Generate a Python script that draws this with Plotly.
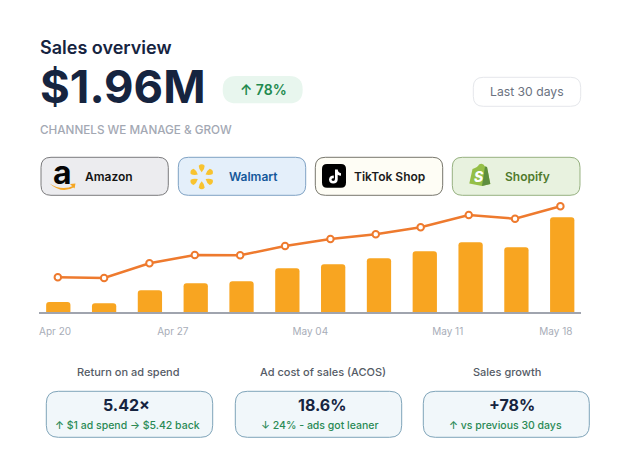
import math
import plotly.graph_objects as go

WIDTH, HEIGHT = 630, 473

# Sales series
bar_values = [10, 8.7, 21.7, 28.7, 30.7, 43.7, 47.7, 53.7, 60.7, 69.7, 64.7, 94.7]
line_values = [34.7, 34, 48.7, 57, 56.7, 66, 73, 77.7, 84.7, 97, 93.3, 105.7]
bar_positions = list(range(12))
line_positions = [-0.01, 1.0, 1.99, 2.98, 3.97, 4.95, 5.94, 6.93, 7.91, 8.96, 9.97, 10.96]
tick_positions = [-0.07, 2.5, 5.5, 8.5, 10.86]
tick_labels = ["Apr 20", "Apr 27", "May 04", "May 11", "May 18"]

# Channel buttons: label, left, right, fill, border, text colour, text centre
channels = [
    ("Amazon", 41, 168.3, "#ECECEF", "#7B7B7D", "#141414", 109),
    ("Walmart", 178.3, 305.7, "#E4EFFA", "#7FA2C4", "#15589B", 253.3),
    ("TikTok Shop", 315.3, 442.7, "#FEFDF5", "#77766C", "#1B1B1B", 389.7),
    ("Shopify", 452.3, 580, "#E8F2DF", "#96B180", "#4F7A2C", 527),
]

# Metric cards: heading, value, note, left, right and text centres
metrics = [
    ("Return on ad spend", "5.42×", "↑ $1 ad spend → $5.42 back", 46.3, 212.7, 128.7, 126.5, 127.8),
    ("Ad cost of sales (ACOS)", "18.6%", "↓ 24% - ads got leaner", 235.3, 401.7, 322.5, 322, 319.5),
    ("Sales growth", "+78%", "↑ vs previous 30 days", 423.3, 589.3, 506.7, 511.5, 505.7),
]

NAVY = "#16243F"
FONT = "Inter"


def px(x):
    return x / WIDTH


def py(y):
    return 1 - y / HEIGHT


def path(commands):
    """Build an SVG path in paper space from (letter, x, y, ...) commands given in page pixels."""
    out = []
    for cmd in commands:
        parts = [cmd[0]]
        vals = cmd[1:]
        for i in range(0, len(vals), 2):
            parts.append(f"{px(vals[i]):.5f},{py(vals[i + 1]):.5f}")
        out.append(" ".join(parts))
    return " ".join(out)


def rounded(x0, y0, x1, y1, r):
    return path([
        ("M", x0 + r, y0), ("L", x1 - r, y0), ("Q", x1, y0, x1, y0 + r),
        ("L", x1, y1 - r), ("Q", x1, y1, x1 - r, y1), ("L", x0 + r, y1),
        ("Q", x0, y1, x0, y1 - r), ("L", x0, y0 + r), ("Q", x0, y0, x0 + r, y0), ("Z",),
    ])


shapes = []
annotations = []


def shape(d, fill, line=None, width=1):
    shapes.append(dict(
        type="path", xref="paper", yref="paper", path=d, fillcolor=fill, layer="above",
        line=dict(color=line or "rgba(0,0,0,0)", width=width if line else 0),
    ))


def label(text, x, y, size, color, weight=400, anchor="center"):
    annotations.append(dict(
        text=text, x=px(x), y=py(y), xref="paper", yref="paper", showarrow=False,
        xanchor=anchor, yanchor="middle", borderpad=0, borderwidth=0,
        font=dict(family=FONT, size=size, color=color, weight=weight),
    ))


# Header
label("Sales overview", 40, 47.5, 18, NAVY, 600, "left")
label("$1.96M", 40, 87, 45.5, NAVY, 700, "left")
shape(rounded(222.7, 76, 302.7, 103.3, 13.6), "#E8F6EE")
label("↑ 78%", 263, 89, 14, "#1F8A4F", 600)
shape(rounded(473.3, 77.3, 580.7, 106.3, 10), "#FFFFFF", "#E5E7EB")
label("Last 30 days", 527, 92, 12.2, "#6B7280", 400)
label("CHANNELS WE MANAGE &amp; GROW", 40, 130, 11.7, "#A3A8B3", 500, "left")

# Channel buttons
for name, left, right, fill, border, ink, centre in channels:
    shape(rounded(left, 157.3, right, 195.3, 10), fill, border)
    label(name, centre, 176.5, 12, ink, 600)

# Amazon mark
label("a", 62, 172, 32, "#050505", 700)
shape(path([("M", 49.5, 183.5), ("Q", 62, 191.5, 74, 185.5), ("L", 74.5, 187),
            ("Q", 62, 194.5, 49.5, 183.5), ("Z",)]), "#F5A623")
shape(path([("M", 70, 184), ("L", 75.5, 183.5), ("L", 74.5, 188.5), ("Z",)]), "#F5A623")

# Walmart spark
spark_x, spark_y = 201.7, 176.8
for degrees in (90, 30, -30, -90, -150, 150):
    a = math.radians(degrees)
    ux, uy = math.cos(a), -math.sin(a)
    nx, ny = -uy, ux
    inner, outer, half = 4.5, 13, 3.0
    shape(path([
        ("M", spark_x + ux * inner, spark_y + uy * inner),
        ("Q", spark_x + ux * (inner + 3) + nx * half, spark_y + uy * (inner + 3) + ny * half,
         spark_x + ux * (outer - 2) + nx * half, spark_y + uy * (outer - 2) + ny * half),
        ("Q", spark_x + ux * (outer + 1), spark_y + uy * (outer + 1),
         spark_x + ux * (outer - 2) - nx * half, spark_y + uy * (outer - 2) - ny * half),
        ("Q", spark_x + ux * (inner + 3) - nx * half, spark_y + uy * (inner + 3) - ny * half,
         spark_x + ux * inner, spark_y + uy * inner),
        ("Z",),
    ]), "#F8C32F")

# TikTok mark
shape(rounded(322, 164, 346, 187.7, 5), "#000000")
shape(path([
    ("M", 335, 169.5), ("L", 337.7, 169.5), ("Q", 338, 172.8, 341, 173.2), ("L", 341, 175.8),
    ("Q", 339, 175.8, 337.7, 174.8), ("L", 337.7, 179.5),
    ("Q", 337.5, 183.6, 333.2, 183.6), ("Q", 329.2, 183.4, 329, 179.5),
    ("Q", 329.3, 175.6, 333.8, 175.6), ("L", 333.8, 178.2),
    ("Q", 331.6, 178, 331.5, 179.6), ("Q", 331.6, 181, 333.1, 181),
    ("Q", 335, 181, 335, 179), ("Z",),
]), "#FFFFFF")

# Shopify mark
shape(path([
    ("M", 472.5, 169), ("Q", 478, 167, 479, 164.5), ("Q", 483, 162.5, 485, 166.5), ("L", 487, 167),
    ("L", 490.3, 184), ("L", 482, 186), ("L", 469.3, 183.5), ("Z",),
]), "#95BF47")
shape(path([
    ("M", 485, 166.5), ("L", 487, 167), ("L", 490.3, 184), ("L", 482, 186), ("Z",),
]), "#5E8E3E")
label("<i>S</i>", 478.5, 176.5, 14, "#FFFFFF", 800)

# Metric cards
for heading, value, note, left, right, head_x, value_x, note_x in metrics:
    shape(rounded(left, 391.3, right, 437.3, 12), "#F1F7FA", "#7FA4B9")
    label(heading, head_x, 372, 11, "#555B66", 500)
    label(value, value_x, 404.5, 16, NAVY, 700)
    label(note, note_x, 425.5, 10.5, "#2A8A55", 500)

fig = go.Figure()
fig.add_bar(
    x=bar_positions, y=bar_values, width=0.53,
    marker=dict(color="#F8A521", line=dict(width=0)),
    hoverinfo="skip",
)
fig.add_scatter(
    x=line_positions, y=line_values, mode="lines+markers",
    line=dict(color="#EE7A2E", width=2.5),
    marker=dict(size=6.5, color="#FFFFFF", line=dict(color="#EE7A2E", width=2)),
    hoverinfo="skip",
)
fig.update_layout(
    width=WIDTH, height=HEIGHT, autosize=False,
    margin=dict(l=0, r=0, t=0, b=0),
    paper_bgcolor="#FFFFFF", plot_bgcolor="#FFFFFF",
    showlegend=False, barcornerradius=3,
    font=dict(family=FONT),
    shapes=shapes, annotations=annotations,
    xaxis=dict(
        domain=[px(39), px(581)], range=[-0.421, 11.41],
        tickmode="array", tickvals=tick_positions, ticktext=tick_labels,
        showgrid=False, zeroline=False, showline=True, linecolor="#A0A4AE", linewidth=1.5,
        ticks="", ticklabelstandoff=9,
        tickfont=dict(family=FONT, size=10, color="#A8ADB8"),
    ),
    yaxis=dict(
        domain=[py(312), py(200)], range=[0, 112],
        showgrid=False, zeroline=False, showline=False, showticklabels=False, ticks="",
    ),
)
fig.write_html("out.html", config=dict(displayModeBar=False))
